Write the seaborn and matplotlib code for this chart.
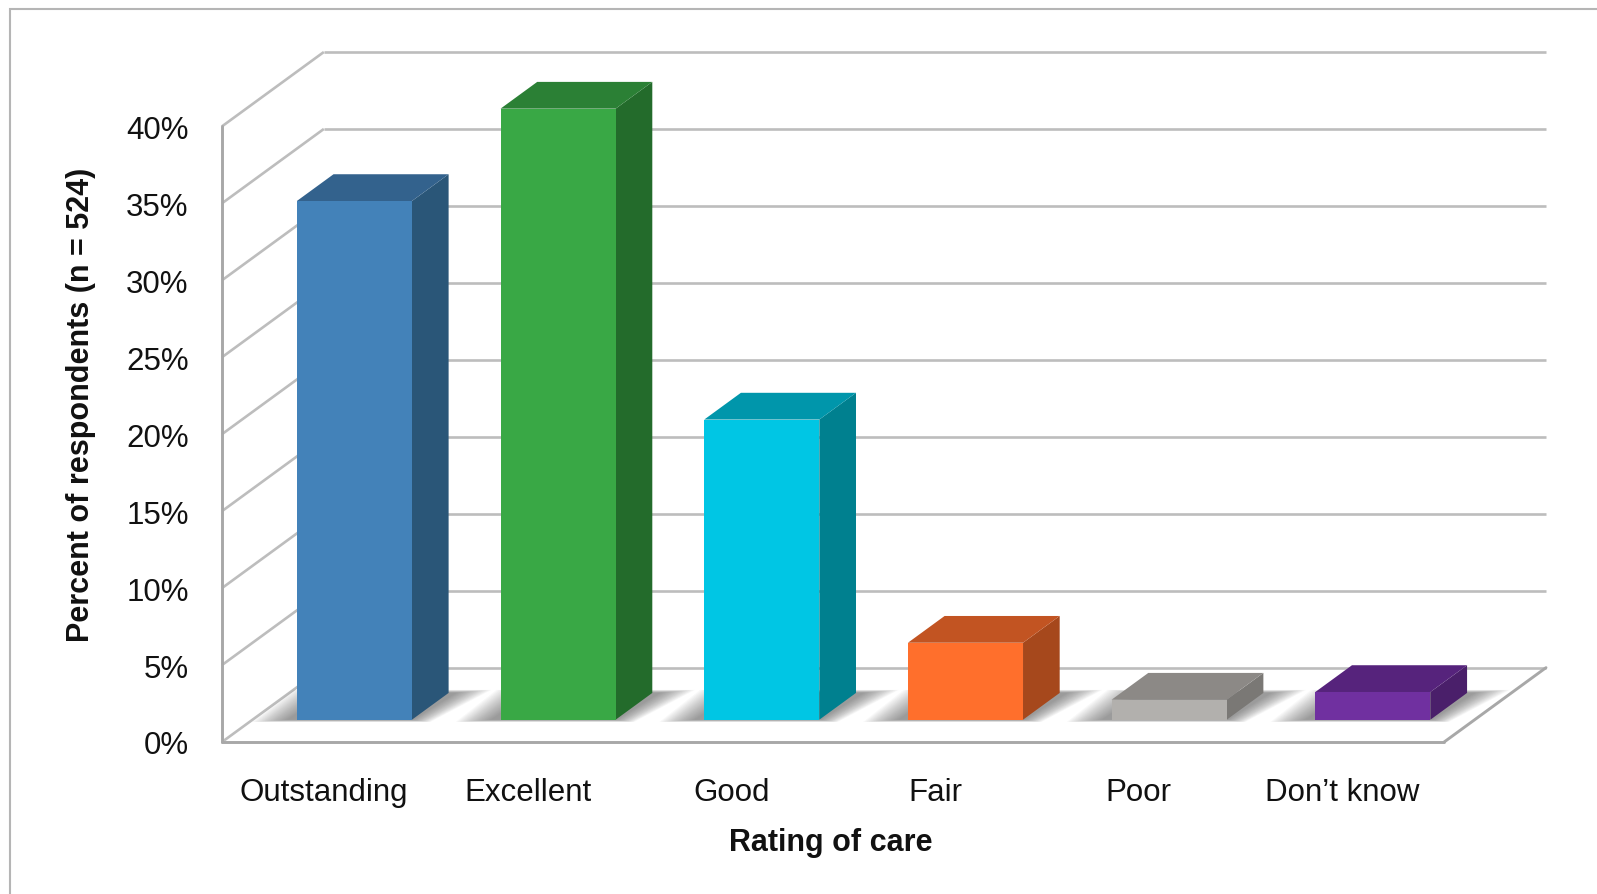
import numpy as np
import pandas as pd
import matplotlib
matplotlib.use("Agg")
import matplotlib.pyplot as plt
import seaborn as sns
from matplotlib.patches import Polygon, Rectangle

# ---------------- data ----------------
categories = ["Outstanding", "Excellent", "Good", "Fair", "Poor", "Don\u2019t know"]
values = [33.7, 39.7, 19.5, 5.0, 1.3, 1.8]
front_colors = ["#4382B9", "#39A845", "#00C6E4", "#FF6F2C", "#B2B0AD", "#7030A0"]
side_colors = ["#2A5678", "#236B2B", "#00808F", "#A6481C", "#7A7875", "#4A1F6A"]
top_colors = ["#33628D", "#2B8035", "#0096AB", "#C25422", "#8C8986", "#56237C"]
y_ticks = [0, 5, 10, 15, 20, 25, 30, 35, 40]
y_tick_labels = [f"{v}%" for v in y_ticks]
x_title = "Rating of care"
y_title = "Percent of respondents (n = 524)"

# ---------------- style ----------------
sns.set_theme(style="white")
plt.rcParams["font.family"] = ["Liberation Sans Narrow", "Liberation Sans", "DejaVu Sans"]

W_PX, H_PX = 1597, 895
fig = plt.figure(figsize=(W_PX / 100, H_PX / 100), dpi=100)

# axes placement (pixels)
ax_l, ax_r, ax_t, ax_b = 222, 1546, 53, 743
ax = fig.add_axes([ax_l / W_PX, 1 - ax_b / H_PX, (ax_r - ax_l) / W_PX, (ax_b - ax_t) / H_PX])

DX = 0.5           # depth offset in category units
DY = 4.83          # depth offset in percent units
F0, F1 = 0.30, 0.66  # bar depth range (fraction of full depth)

df = pd.DataFrame({"cat": categories, "val": values})
sns.barplot(data=df, x="cat", y="val", hue="cat", palette=front_colors,
            hue_order=categories, order=categories,
            width=0.565, saturation=1, legend=False, ax=ax,
            linewidth=0, edgecolor="none", zorder=5)

ax.set_xlim(-0.5, 6.0)
ax.set_ylim(0, 40 + DY)
for s in ax.spines.values():
    s.set_visible(False)
ax.grid(False)
ax.set_facecolor("none")

grid_c = "#BDBDBD"
axis_c = "#A8A8A8"
lw = 1.9
# walls: side wall diagonals + back wall horizontals
for v in y_ticks:
    ax.plot([-0.5, 0.0], [v, v + DY], color=grid_c, lw=lw, zorder=1, clip_on=False,
            solid_capstyle="butt")
    ax.plot([0.0, 6.0], [v + DY, v + DY], color=grid_c, lw=lw, zorder=1, clip_on=False,
            solid_capstyle="butt")
# front vertical axis line and floor edges
ax.plot([-0.5, -0.5], [0, 40], color=axis_c, lw=2.1, zorder=2, clip_on=False)
ax.plot([-0.5, 5.5], [0, 0], color=axis_c, lw=2.1, zorder=2, clip_on=False)
ax.plot([5.5, 6.0], [0, DY], color=axis_c, lw=2.1, zorder=2, clip_on=False)

# ---------------- 3D faces from the seaborn bars ----------------
bars = sorted(ax.patches, key=lambda p: p.get_x())
for i, p in enumerate(bars):
    x0 = p.get_x()
    w = p.get_width()
    h = p.get_height()
    fx0, fy0 = F0 * DX, F0 * DY
    fx1, fy1 = F1 * DX, F1 * DY
    # soft floor shadow
    for k in range(20, 0, -1):
        ex = 0.009 * k
        ey = 0.05 * k
        shadow = Polygon([(x0 + fx0 - ex - 0.04, fy0 - ey * 0.15),
                          (x0 + w + fx0 + ex * 0.5, fy0 - ey * 0.15),
                          (x0 + w + fx1 + ex + 0.03, fy1 + ey * 0.2),
                          (x0 + fx1 - ex - 0.02, fy1 + ey * 0.2)],
                         closed=True, facecolor="#4a4a4a", edgecolor="none",
                         alpha=0.035, zorder=3)
        ax.add_patch(shadow)
    # move front face to its depth
    p.set_x(x0 + fx0)
    p.set_y(fy0)
    p.set_zorder(6)
    # side face
    side = Polygon([(x0 + w + fx0, fy0), (x0 + w + fx1, fy1),
                    (x0 + w + fx1, h + fy1), (x0 + w + fx0, h + fy0)],
                   closed=True, facecolor=side_colors[i], edgecolor="none", zorder=5)
    ax.add_patch(side)
    # top face
    top = Polygon([(x0 + fx0, h + fy0), (x0 + w + fx0, h + fy0),
                   (x0 + w + fx1, h + fy1), (x0 + fx1, h + fy1)],
                  closed=True, facecolor=top_colors[i], edgecolor="none", zorder=5)
    ax.add_patch(top)

# ---------------- ticks & labels ----------------
ax.set_yticks(y_ticks)
ax.set_yticklabels(y_tick_labels)
ax.tick_params(axis="y", length=0, pad=24, labelsize=22.5, labelcolor="#111111")
ax.set_xticks(range(len(categories)))
ax.set_xticklabels(categories)
ax.tick_params(axis="x", length=0, pad=25, labelsize=22.5, labelcolor="#111111")

ax.set_xlabel(x_title, fontsize=22, fontweight="bold", color="#111111")
ax.set_ylabel(y_title, fontsize=22, fontweight="bold", color="#111111")
ax.xaxis.set_label_coords((831 - ax_l) / (ax_r - ax_l), (ax_b - 843) / (ax_b - ax_t))
ax.xaxis.label.set_va("center")
ax.yaxis.set_label_coords((81 - ax_l) / (ax_r - ax_l), (ax_b - 405) / (ax_b - ax_t))
ax.yaxis.label.set_va("center")

# outer chart border
fig.patches.append(Rectangle((10 / W_PX, -0.2), 2.0, (H_PX - 10) / H_PX + 0.2,
                             transform=fig.transFigure, facecolor="none",
                             edgecolor="#B5B5B5", lw=1.5, zorder=0))

fig.savefig("out.png", dpi=100, facecolor="white")
